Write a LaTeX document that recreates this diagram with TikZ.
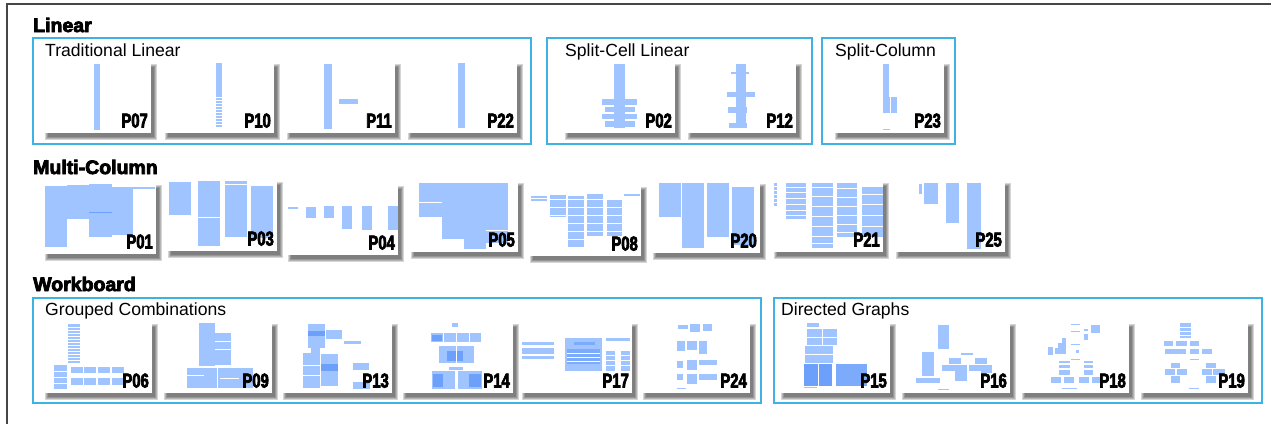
\documentclass[tikz,border=0pt]{standalone}
\usepackage{fontspec}
\setmainfont{Liberation Sans}
\newfontfamily\headfont[BoldFeatures={FakeBold=4}]{Liberation Sans}
\newfontfamily\pidfont[FakeStretch=0.74, BoldFeatures={FakeBold=3.5}]{Liberation Sans}
\definecolor{groupblue}{RGB}{62,178,228}
\definecolor{pageblue}{RGB}{160,196,255}
\definecolor{pagedeep}{RGB}{108,160,250}
\definecolor{framegray}{RGB}{70,70,70}

\tikzset{
  heading/.style={anchor=base west, inner sep=0pt, font=\headfont\bfseries\fontsize{19.5}{22}\selectfont},
  grouplabel/.style={anchor=base west, inner sep=0pt, font=\fontsize{17.6}{20}\selectfont},
  groupbox/.style={draw=groupblue, line width=1.4pt},
  pid/.style={anchor=base east, inner sep=0pt, font=\pidfont\bfseries\fontsize{20}{24}\selectfont},
  pg/.style={fill=pageblue},
  pgdeep/.style={fill=pagedeep},
  pgmid/.style={fill=pagedeep!70!pageblue},
  sep/.style={draw=white, line width=0.5pt},
}

\newcommand{\thumbcard}[5]{%
  \begin{scope}[shift={(#2,#3)}]
    \foreach \blur in {0,1,2,3}
      \fill[black, opacity=0.16] (3-\blur,4-\blur) rectangle (#4+3+\blur,73.5+\blur);
    \fill[white] (0,0) rectangle (#4,70);
    #5
    \node[pid] (#1) at (#4-3,64.5) {#1};
  \end{scope}}

\begin{document}
\begin{tikzpicture}[x=1pt, y=-1pt]
  \useasboundingbox (0,0) rectangle (1271,424);
  \draw[framegray, line width=1.5pt] (7,424) -- (7,4) -- (1271,4);

  \node[heading] (linear) at (33,32) {Linear};
  \node[heading] (multicol) at (33,174) {Multi-Column};
  \node[heading] (workboard) at (33,291) {Workboard};

  \draw[groupbox] (33,38) rectangle (531,144);
  \draw[groupbox] (547,38) rectangle (812,144);
  \draw[groupbox] (822,38) rectangle (955,144);
  \draw[groupbox] (33,298) rectangle (761,403);
  \draw[groupbox] (774,298) rectangle (1262,403);
  \node[grouplabel] (tradlin) at (45,56) {Traditional Linear};
  \node[grouplabel] (splitcell) at (565,56) {Split-Cell Linear};
  \node[grouplabel] (splitcol) at (835,56) {Split-Column};
  \node[grouplabel] (grouped) at (45,315) {Grouped Combinations};
  \node[grouplabel] (directed) at (781,315) {Directed Graphs};

  \thumbcard{P07}{45}{63}{106}{\fill[pg] (49,1) rectangle (55,67);}
  \thumbcard{P10}{165}{63}{109}{\fill[pg] (51,0) rectangle (57,65);
    \foreach \r in {34,37,...,64} \draw[sep] (51,\r) -- (57,\r);}
  \thumbcard{P11}{287}{63}{108}{\fill[pg] (37,1) rectangle (45,66);
    \fill[pg] (52,36) rectangle (71,41);}
  \thumbcard{P22}{408}{63}{109}{\fill[pg] (50,0) rectangle (57,65);}
  \thumbcard{P02}{565}{63}{110}{\fill[pg] (49,1) rectangle (60,65);
    \fill[pg] (37,36) rectangle (72,42); \fill[pg] (40,44) rectangle (70,49);
    \fill[pg] (37,51) rectangle (72,56); \fill[pg] (40,58) rectangle (70,64);}
  \thumbcard{P12}{688}{63}{108}{\fill[pg] (48,1) rectangle (58,65);
    \fill[pg] (43,9) rectangle (61,11); \fill[pg] (39,29) rectangle (67,34);
    \fill[pg] (40,44) rectangle (59,50); \fill[pg] (41,60) rectangle (59,65);}
  \thumbcard{P23}{835}{63}{109}{\fill[pg] (48,1) rectangle (54,50);
    \fill[pg] (48,34) rectangle (62,50); \draw[sep] (55,34) -- (55,50);
    \fill[pg] (48,66) rectangle (55,67);}

  \thumbcard{P01}{45}{184}{111}{\fill[pg] (0,2) rectangle (22,63);
    \fill[pg] (22,1) rectangle (44,35); \fill[pg] (44,0) rectangle (67,53);
    \fill[pg] (67,3) rectangle (88,51); \fill[pg] (88,3) rectangle (110,5);
    \draw[pagedeep, line width=0.6pt] (44,28) -- (67,28);}
  \thumbcard{P03}{168}{181}{109}{\fill[pg] (1,1) rectangle (23,34);
    \fill[pg] (30,0) rectangle (52,65); \fill[pg] (57,0) rectangle (79,56);
    \fill[pg] (83,5) rectangle (105,57);
    \draw[sep] (30,36) -- (52,36); \draw[sep] (57,3) -- (79,3);}
  \thumbcard{P04}{288}{185}{110}{\fill[pg] (0,22) rectangle (10,24);
    \fill[pg] (18,22) rectangle (28,33); \fill[pg] (36,21) rectangle (46,33);
    \fill[pg] (54,21) rectangle (64,44); \fill[pg] (74,21) rectangle (84,45);
    \fill[pg] (100,21) rectangle (110,45);}
  \thumbcard{P05}{411}{182}{107}{\fill[pg] (8,1) rectangle (31,35);
    \fill[pg] (31,1) rectangle (53,57); \fill[pg] (53,1) rectangle (75,67);
    \fill[pg] (75,1) rectangle (97,61);
    \draw[sep] (8,20) -- (31,20); \draw[sep] (75,48) -- (97,48);}
  \thumbcard{P08}{530}{186}{111}{\fill[pg] (1,10) rectangle (17,12);
    \fill[pg] (1,13) rectangle (17,15); \fill[pg] (20,9) rectangle (36,31);
    \fill[pg] (38,10) rectangle (54,61); \fill[pg] (57,8) rectangle (73,50);
    \fill[pg] (77,13) rectangle (92,50); \fill[pg] (94,8) rectangle (110,10);
    \foreach \r in {13,21,29,37,45,53} \draw[sep] (20,\r) -- (92,\r);}
  \thumbcard{P20}{653}{183}{107}{\fill[pg] (6,0) rectangle (28,34);
    \fill[pg] (29,0) rectangle (51,65); \fill[pg] (54,0) rectangle (76,54);
    \fill[pg] (79,4) rectangle (101,62);}
  \thumbcard{P21}{774}{182}{109}{\fill[pg] (0,1) rectangle (3,24);
    \fill[pg] (12,1) rectangle (32,37); \fill[pg] (38,1) rectangle (59,66);
    \fill[pg] (63,1) rectangle (83,55); \fill[pg] (88,5) rectangle (109,55);
    \foreach \r in {4,8,...,24} \draw[sep] (0,\r) -- (3,\r);
    \foreach \r in {5,10,16,22,28,33} \draw[sep] (12,\r) -- (32,\r);
    \foreach \r in {5,14,24,34,44,54,61} \draw[sep] (38,\r) -- (59,\r);
    \foreach \r in {6,15,24,33,42,50} \draw[sep] (63,\r) -- (83,\r);
    \foreach \r in {12,22,33,44} \draw[sep] (88,\r) -- (109,\r);}
  \thumbcard{P25}{896}{182}{109}{\fill[pg] (23,2) rectangle (26,12);
    \fill[pg] (28,1) rectangle (42,22); \fill[pg] (50,1) rectangle (63,41);
    \fill[pg] (71,1) rectangle (85,67);}

  \thumbcard{P06}{45}{323}{107}{\fill[pg] (23,1) rectangle (35,40);
    \foreach \r in {4,7,...,37} \draw[sep] (23,\r) -- (35,\r);
    \fill[pg] (9,42) rectangle (22,66);
    \foreach \r in {48,54,60} \draw[sep] (9,\r) -- (22,\r);
    \foreach \c in {26,39,53,67} {\fill[pg] (\c,44) rectangle (\c+12,50);
      \fill[pg] (\c,55) rectangle (\c+12,62);}}
  \thumbcard{P09}{164}{323}{108}{\fill[pg] (35,0) rectangle (51,43);
    \fill[pg] (51,10) rectangle (67,42);
    \draw[sep] (51,18) -- (67,18); \draw[sep] (51,26) -- (67,26);
    \fill[pg] (23,45) rectangle (89,65);
    \draw[sep] (23,52) -- (40,52); \draw[sep] (56,55) -- (75,55);
    \draw[sep] (53,45) -- (53,65);}
  \thumbcard{P13}{283}{323}{109}{\fill[pg] (25,1) rectangle (42,25);
    \fill[pgdeep] (25,8) rectangle (42,13); \fill[pg] (28,25) rectangle (37,30);
    \fill[pg] (43,7) rectangle (59,16); \fill[pg] (61,18) rectangle (78,21);
    \fill[pg] (20,30) rectangle (37,65); \fill[pg] (38,31) rectangle (55,63);
    \fill[pgdeep] (38,41) rectangle (55,48);
    \draw[sep] (20,42) -- (37,42); \draw[sep] (20,52) -- (37,52);
    \fill[pg] (70,40) rectangle (86,47); \fill[pg] (70,59) rectangle (87,66);}
  \thumbcard{P14}{403}{323}{110}{\fill[pg] (49,0) rectangle (55,4);
    \fill[pg] (28,10) rectangle (78,19);
    \foreach \c in {40,53,66} \draw[sep] (\c,10) -- (\c,19);
    \fill[pgdeep] (29,12) rectangle (39,18);
    \fill[pg] (36,23) rectangle (71,40); \fill[pgdeep] (44,28) rectangle (60,38);
    \draw[sep] (53,23) -- (53,40);
    \fill[pg] (46,44) rectangle (60,47);
    \fill[pg] (29,48) rectangle (52,66); \fill[pg] (55,48) rectangle (79,66);
    \fill[pgdeep] (30,51) rectangle (40,64); \fill[pgdeep] (66,51) rectangle (78,64);}
  \thumbcard{P17}{522}{323}{110}{\fill[pg] (0,19) rectangle (32,22);
    \fill[pg] (0,25) rectangle (32,31); \fill[pg] (0,33) rectangle (32,36);
    \fill[pg] (43,15) rectangle (80,48); \fill[pgmid] (52,19) rectangle (73,22);
    \fill[pgmid] (45,26) rectangle (78,41);
    \foreach \r in {30,34,38} \draw[sep] (45,\r) -- (78,\r);
    \fill[pg] (84,15) rectangle (108,18);
    \fill[pg] (84,28) rectangle (93,48); \fill[pg] (99,28) rectangle (108,48);
    \foreach \r in {32,37,42} \draw[sep] (84,\r) -- (108,\r);}
  \thumbcard{P24}{643}{323}{107}{\fill[pg] (35,2) rectangle (45,6);
    \fill[pg] (47,1) rectangle (57,9); \fill[pg] (60,1) rectangle (69,8);
    \fill[pg] (34,18) rectangle (42,28); \fill[pg] (44,18) rectangle (54,27);
    \fill[pg] (56,18) rectangle (64,31);
    \fill[pg] (34,38) rectangle (40,45); \fill[pg] (44,37) rectangle (54,47);
    \fill[pg] (56,37) rectangle (74,42);
    \fill[pg] (34,51) rectangle (40,57); \fill[pg] (44,51) rectangle (54,61);
    \fill[pg] (56,51) rectangle (74,57); \fill[pg] (34,65) rectangle (43,66);}

  \thumbcard{P15}{781}{323}{109}{\fill[pg] (26,0) rectangle (38,4);
    \fill[pg] (26,6) rectangle (56,22); \draw[sep] (41,6) -- (41,22);
    \draw[sep] (26,14) -- (56,14);
    \fill[pg] (24,23) rectangle (52,40); \draw[sep] (24,31) -- (52,31);
    \fill[pgdeep] (23,41) rectangle (51,63); \draw[sep] (37,41) -- (37,63);
    \fill[pgmid] (55,41) rectangle (86,63);
    \fill[pg] (23,64) rectangle (36,65);}
  \thumbcard{P16}{902}{323}{108}{\fill[pg] (36,2) rectangle (47,26);
    \fill[pg] (20,29) rectangle (32,53); \fill[pg] (14,55) rectangle (38,60);
    \fill[pg] (47,35) rectangle (59,41); \fill[pg] (40,42) rectangle (53,48);
    \fill[pg] (53,42) rectangle (65,58); \fill[pg] (59,30) rectangle (71,32);
    \fill[pg] (73,35) rectangle (85,41); \fill[pg] (67,42) rectangle (80,48);
    \fill[pg] (79,42) rectangle (90,50); \fill[pg] (36,66) rectangle (47,67);}
  \thumbcard{P18}{1022}{323}{107}{\fill[pg] (49,1) rectangle (58,2);
    \fill[pg] (49,8) rectangle (58,9); \fill[pg] (62,6) rectangle (66,8);
    \fill[pg] (69,2) rectangle (78,10); \fill[pg] (62,11) rectangle (66,17);
    \fill[pg] (40,15) rectangle (44,20); \fill[pg] (36,20) rectangle (44,25);
    \fill[pg] (26,24) rectangle (31,32); \fill[pg] (33,25) rectangle (44,31);
    \fill[pg] (49,21) rectangle (58,22); \fill[pg] (54,27) rectangle (57,30);
    \fill[pg] (49,36) rectangle (58,37);
    \fill[pg] (37,38) rectangle (48,40); \fill[pg] (37,42) rectangle (48,45);
    \fill[pg] (37,47) rectangle (48,52);
    \fill[pg] (62,38) rectangle (71,40); \fill[pg] (62,42) rectangle (71,45);
    \fill[pg] (62,47) rectangle (71,52);
    \foreach \c in {29,42,57,70} \fill[pg] (\c,54) rectangle (\c+10,60);
    \fill[pg] (40,65) rectangle (55,66);}
  \thumbcard{P19}{1141}{323}{107}{\fill[pg] (39,0) rectangle (50,15);
    \foreach \r in {4,8,12} \draw[sep] (39,\r) -- (50,\r);
    \fill[pg] (23,18) rectangle (32,23); \fill[pg] (35,18) rectangle (46,23);
    \fill[pg] (49,18) rectangle (58,23);
    \fill[pg] (24,26) rectangle (45,31); \fill[pg] (49,26) rectangle (58,31);
    \fill[pg] (61,26) rectangle (71,31); \fill[pg] (49,36) rectangle (58,37);
    \fill[pg] (30,40) rectangle (39,45); \fill[pg] (65,40) rectangle (75,45);
    \fill[pg] (24,46) rectangle (34,52); \fill[pg] (36,46) rectangle (46,52);
    \fill[pg] (61,46) rectangle (71,52); \fill[pg] (72,46) rectangle (84,52);
    \fill[pg] (30,53) rectangle (39,60); \fill[pg] (65,53) rectangle (75,60);
    \fill[pg] (48,65) rectangle (58,66);}
\end{tikzpicture}
\end{document}
